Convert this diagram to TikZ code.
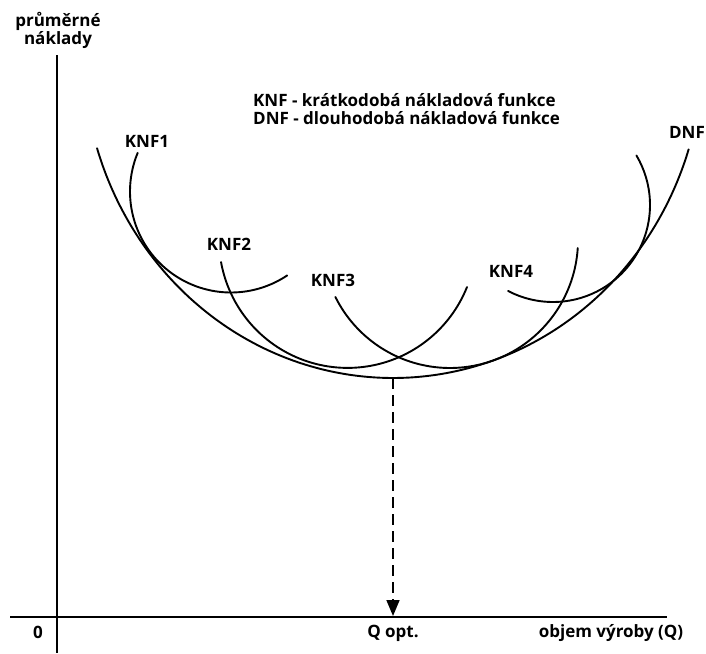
\documentclass[tikz,border=0pt]{standalone}
\usepackage{fontspec}
\setmainfont{Open Sans}
\usetikzlibrary{arrows.meta}
\begin{document}
\begin{tikzpicture}[x=1pt,y=-1pt,
  lbl/.style={font=\bfseries\fontsize{17}{18}\selectfont, inner sep=0pt},
  axisline/.style={line width=2.8pt},
  curve/.style={line width=1.9pt, line cap=round},
  guide/.style={line width=1.7pt, dash pattern=on 11pt off 6pt,
    -{Triangle[length=16pt,width=13pt]}}]
\useasboundingbox[fill=white] (0,0) rectangle (706,653);
% axes
\coordinate (ytop) at (57,55);
\coordinate (ybot) at (57,653);
\coordinate (xl) at (10,617);
\coordinate (xr) at (667,617);
\draw[axisline] (ytop) -- (ybot);
\draw[axisline] (xl) -- (xr);
% DNF
\draw[curve] plot[domain=17.5:162.7, samples=120, smooth]
  ({393+310*cos(\x)}, {51+327*sin(\x)});
% KNF1
\draw[curve] plot[domain=56.2:202.5, samples=80, smooth]
  ({231+101*cos(\x)}, {191.5+101*sin(\x)});
% KNF2
\draw[curve] plot[domain=21.8:169.8, samples=80, smooth]
  ({347.6+128.6*cos(\x)}, {239.3+128.6*sin(\x)});
% KNF3
\draw[curve] plot[domain=3.6:153.6, samples=80, smooth]
  ({450+128*cos(\x)}, {240+128*sin(\x)});
% KNF4
\draw[curve] plot[domain=-30.7:117.6, samples=80, smooth]
  ({553+97*cos(\x)}, {205+97*sin(\x)});
% optimum guide
\coordinate (dmin) at (393,378);
\coordinate (qopt) at (393,616);
\draw[guide] (dmin) -- (qopt);
% labels
\node[lbl, align=center] (ylab) at (58,30) {průměrné\\náklady};
\node[lbl, align=left, anchor=west] (legend) at (253,109)
  {KNF - krátkodobá nákladová funkce\\DNF - dlouhodobá nákladová funkce};
\node[lbl] (k1) at (147,141) {KNF1};
\node[lbl] (k2) at (229,244) {KNF2};
\node[lbl] (k3) at (333,280) {KNF3};
\node[lbl] (k4) at (511,271) {KNF4};
\node[lbl] (dnf) at (687,132) {DNF};
\node[lbl] (zero) at (38,632) {0};
\node[lbl] (qlab) at (393,633) {Q opt.};
\node[lbl] (xlab) at (611,633) {objem výroby (Q)};
\end{tikzpicture}
\end{document}
